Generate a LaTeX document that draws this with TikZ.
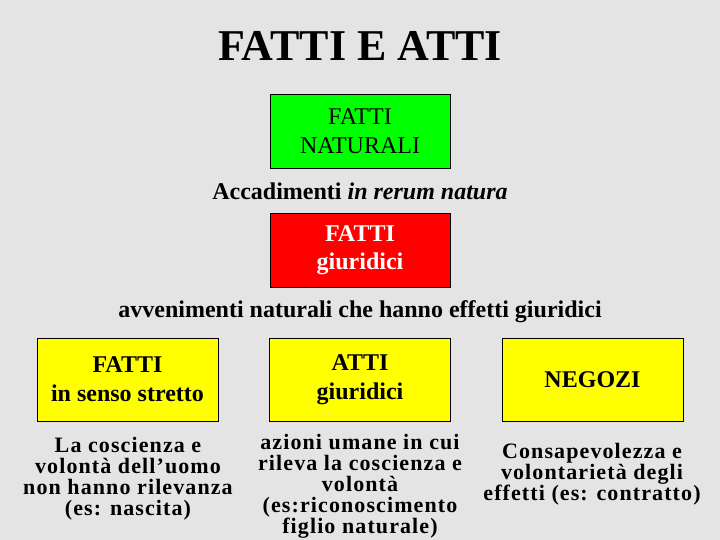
\documentclass[tikz,border=0pt]{standalone}
\usepackage{fontspec}
\setmainfont{Liberation Serif}
\newfontfamily\condfont[LetterSpace=5]{Liberation Serif}
\definecolor{bg}{HTML}{E4E4E4}
\definecolor{boxgreen}{HTML}{00FF00}
\definecolor{boxred}{HTML}{FF0000}
\definecolor{boxyellow}{HTML}{FFFF00}
\begin{document}
\begin{tikzpicture}[x=1pt,y=-1pt,
  box/.style={draw=black, line width=0.9pt, inner sep=0pt, align=center,
    font=\fontsize{24}{28.8}\selectfont},
  topbox/.style={box, minimum width=180pt, minimum height=74pt},
  lowbox/.style={box, minimum width=181pt, minimum height=83pt, fill=boxyellow, font=\fontsize{24}{29}\selectfont\bfseries},
  caption/.style={inner sep=0pt, font=\fontsize{24}{28.8}\selectfont\bfseries},
  note/.style={inner sep=0pt, align=center, font=\fontsize{22}{21}\condfont\bfseries}
]
\fill[bg] (0,0) rectangle (720,540);
\useasboundingbox (0,0) rectangle (720,540);

\node[inner sep=0pt, anchor=base, font=\fontsize{44}{50}\selectfont\bfseries] (title) at (360,61) {FATTI E ATTI};

\node[topbox, fill=boxgreen] (nat) at (360,131) {FATTI\\NATURALI};
\node[caption, anchor=base] (acc) at (360,200) {Accadimenti \textit{in rerum natura}};

\node[topbox, fill=boxred, text=white, font=\fontsize{24}{28}\selectfont\bfseries] (giu) at (360,250) {FATTI\\giuridici};
\node[caption, anchor=base] (avv) at (360,317) {avvenimenti naturali che hanno effetti giuridici};

\node[lowbox] (fss) at (127.5,379.5) {FATTI\\in senso stretto};
\node[lowbox] (atti) at (360,379.5) {ATTI\\giuridici};
\node[lowbox] (neg) at (592.5,379.5) {NEGOZI};

\node[note] (n1) at (128,479) {La coscienza e\\volontà dell’uomo\\non hanno rilevanza\\(es: nascita)};
\node[note] (n2) at (360,486) {azioni umane in cui\\rileva la coscienza e\\volontà\\(es:riconoscimento\\figlio naturale)};
\node[note] (n3) at (592,474) {Consapevolezza e\\volontarietà degli\\effetti (es: contratto)};
\end{tikzpicture}
\end{document}
